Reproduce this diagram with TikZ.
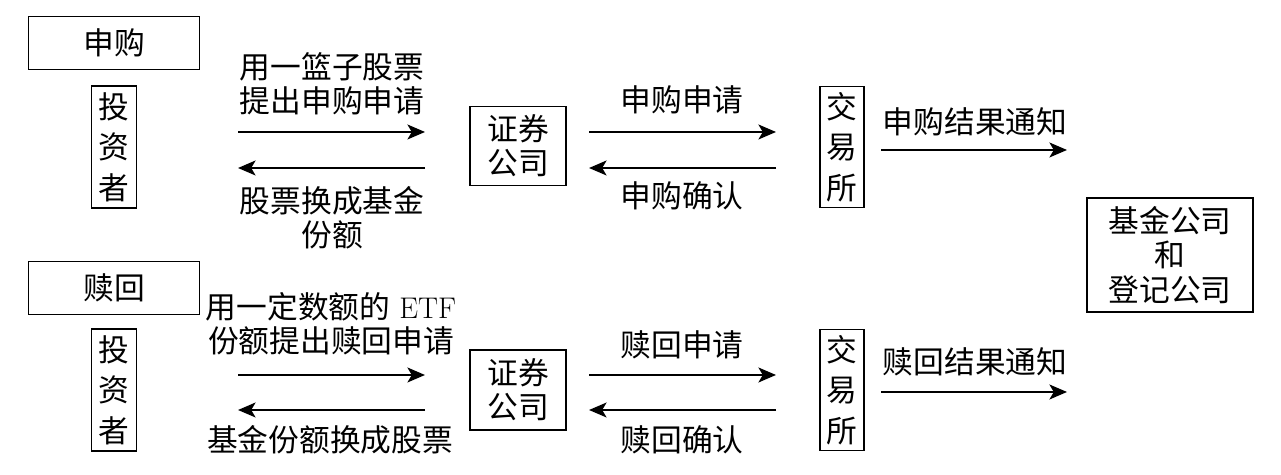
\documentclass[tikz,border=0pt]{standalone}
\usepackage{fontspec}
\newfontfamily\cjk{Noto Sans CJK SC}
\usetikzlibrary{arrows.meta}

\begin{document}
\begin{tikzpicture}[x=0.02cm, y=-0.02cm]
        % styles
        \tikzstyle{box}=[draw, line width=1pt, inner sep=0pt, align=center, font=\cjk\fontsize{17.5}{19.5}\selectfont]
        \tikzstyle{vbox}=[box, minimum width=0.9cm, minimum height=2.44cm, font=\cjk\fontsize{17.5}{23}\selectfont]
        \tikzstyle{txt}=[align=center, inner sep=0pt, font=\cjk\fontsize{17.5}{19.5}\selectfont]
        \tikzstyle{flow}=[line width=1.1pt, -{Stealth[length=10pt, width=8.5pt, inset=2.5pt]}]

        \useasboundingbox (0,0) rectangle (1281,475);

        % subscription
        \node[box, minimum width=3.42cm, minimum height=1.06cm] (sg) at (114,43) {申购};
        \node[vbox] (inv1) at (114,147) {投\\资\\者};
        \node[box, minimum width=1.92cm, minimum height=1.58cm] (zq1) at (518,146) {证券\\公司};
        \node[vbox, minimum width=0.88cm, minimum height=2.42cm] (jys1) at (842,147) {交\\易\\所};

        % fund company
        \node[box, minimum width=3.32cm, minimum height=2.28cm] (jj) at (1170,255) {基金公司\\和\\登记公司};

        % redemption
        \node[box, minimum width=3.42cm, minimum height=1.06cm] (sh) at (114,288) {赎回};
        \node[vbox] (inv2) at (114,390) {投\\资\\者};
        \node[box, minimum width=1.92cm, minimum height=1.6cm] (zq2) at (518,390) {证券\\公司};
        \node[vbox, minimum width=0.88cm, minimum height=2.42cm] (jys2) at (842,390) {交\\易\\所};

        % arrow ends
        \coordinate (a1) at (238,132); \coordinate (a2) at (425,132);
        \coordinate (b1) at (238,168); \coordinate (b2) at (425,168);
        \coordinate (c1) at (589,132); \coordinate (c2) at (776,132);
        \coordinate (d1) at (589,168); \coordinate (d2) at (776,168);
        \coordinate (e1) at (881,150); \coordinate (e2) at (1067,150);
        \coordinate (f1) at (238,375); \coordinate (f2) at (425,375);
        \coordinate (g1) at (238,410); \coordinate (g2) at (425,410);
        \coordinate (h1) at (589,375); \coordinate (h2) at (776,375);
        \coordinate (i1) at (589,410); \coordinate (i2) at (776,410);
        \coordinate (k1) at (881,392); \coordinate (k2) at (1067,392);

        % arrows, subscription
        \draw[flow] (a1) -- (a2);
        \draw[flow] (b2) -- (b1);
        \draw[flow] (c1) -- (c2);
        \draw[flow] (d2) -- (d1);
        \draw[flow] (e1) -- (e2);

        % arrows, redemption
        \draw[flow] (f1) -- (f2);
        \draw[flow] (g2) -- (g1);
        \draw[flow] (h1) -- (h2);
        \draw[flow] (i2) -- (i1);
        \draw[flow] (k1) -- (k2);

        % labels
        \node[txt] (l1) at (332,84) {用一篮子股票\\提出申购申请};
        \node[txt] (l2) at (332,218) {股票换成基金\\份额};
        \node[txt] (l3) at (682,100) {申购申请};
        \node[txt] (l4) at (682,196) {申购确认};
        \node[txt] (l5) at (975,122) {申购结果通知};
        \node[txt] (l6) at (331,324) {用一定数额的{\rmfamily\fontsize{17}{19.5}\selectfont\ ETF}\\份额提出赎回申请};
        \node[txt] (l7) at (330,440) {基金份额换成股票};
        \node[txt] (l8) at (682,345) {赎回申请};
        \node[txt] (l9) at (682,440) {赎回确认};
        \node[txt] (l10) at (975,362) {赎回结果通知};
    \end{tikzpicture}
\end{document}
